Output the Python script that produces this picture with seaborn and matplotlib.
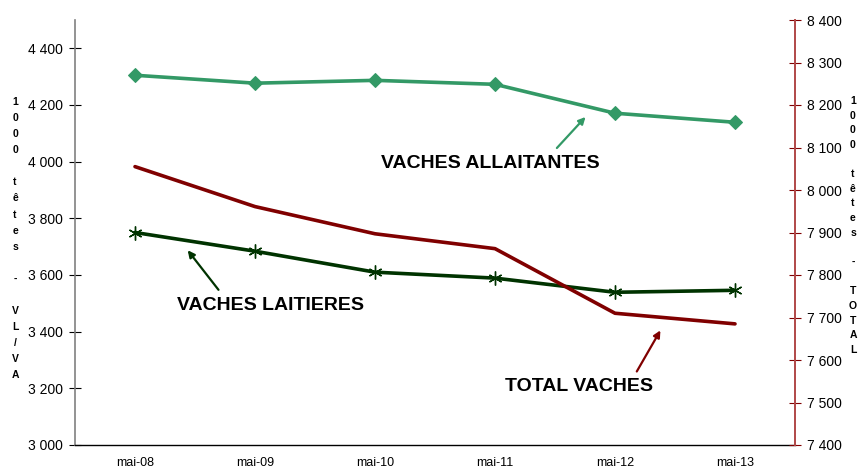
import matplotlib
matplotlib.use("Agg")
import matplotlib.pyplot as plt
import seaborn as sns
import pandas as pd
import numpy as np

months = ["mai-08", "mai-09", "mai-10", "mai-11", "mai-12", "mai-13"]
vaches_laitieres = [3750, 3684, 3610, 3589, 3539, 3546]
vaches_allaitantes = [4305, 4277, 4287, 4273, 4171, 4139]
total_vaches = [8055, 7961, 7897, 7862, 7710, 7685]

left_ticks = [3000, 3200, 3400, 3600, 3800, 4000, 4200, 4400]
right_ticks = [7400, 7500, 7600, 7700, 7800, 7900, 8000, 8100, 8200, 8300, 8400]

sns.set_style("white")
plt.rcParams["font.family"] = ["Liberation Sans", "DejaVu Sans"]
plt.rcParams["text.color"] = "black"
plt.rcParams["xtick.color"] = "black"
plt.rcParams["ytick.color"] = "black"
plt.rcParams["axes.labelcolor"] = "black"

df = pd.DataFrame({
    "idx": np.arange(len(months)),
    "VL": vaches_laitieres,
    "VA": vaches_allaitantes,
    "TOT": total_vaches,
})

fig = plt.figure(figsize=(8.58, 4.70), dpi=100)
ax = fig.add_axes([75/858, 1-445/470, (795-75)/858, (445-20)/470])
ax2 = ax.twinx()

c_va = "#339966"
c_vl = "#003300"
c_tot = "#800000"

sns.lineplot(data=df, x="idx", y="VA", ax=ax, color=c_va, lw=2.6,
             marker="D", markersize=7, markeredgecolor=c_va, zorder=3)
sns.lineplot(data=df, x="idx", y="VL", ax=ax, color=c_vl, lw=2.6,
             marker=(6, 2, 0), markersize=10, markeredgecolor=c_vl,
             markeredgewidth=1.0, zorder=3)
sns.lineplot(data=df, x="idx", y="TOT", ax=ax2, color=c_tot, lw=2.6, zorder=3)

ax.set_xlim(-0.5, len(months) - 0.5)
ax.set_ylim(3000, 4500)
ax2.set_ylim(7400, 8400)

# x ticks: boundaries as major ticks, labels at centers
ax.set_xticks(np.arange(-0.5, len(months), 1.0))
ax.set_xticklabels([])
ax.set_xticks(np.arange(len(months)), minor=True)
ax.set_xticklabels(months, minor=True, fontsize=9)
ax.tick_params(axis="x", which="major", direction="inout", length=7, width=0.8, color="black")
ax.tick_params(axis="x", which="minor", length=0, pad=9, labelcolor="black")

def fmt(v):
    return f"{v:,}".replace(",", " ")

ax.set_yticks(left_ticks)
ax.set_yticklabels([fmt(v) for v in left_ticks], fontsize=10)
ax.tick_params(axis="y", direction="inout", length=9, width=0.8, color="black",
               labelcolor="black", pad=4)

ax2.set_yticks(right_ticks)
ax2.set_yticklabels([fmt(v) for v in right_ticks], fontsize=10)
ax2.tick_params(axis="y", direction="inout", length=9, width=0.8, color=c_tot,
                labelcolor="black", pad=4)

ax.set_xlabel("")
ax.set_ylabel("")
ax2.set_ylabel("")

for a in (ax, ax2):
    a.spines["top"].set_visible(False)
    a.grid(False)
ax.spines["left"].set_color("#808080")
ax.spines["left"].set_linewidth(1.2)
ax.spines["bottom"].set_color("black")
ax.spines["bottom"].set_linewidth(1.0)
ax.spines["right"].set_visible(False)
ax2.spines["left"].set_visible(False)
ax2.spines["bottom"].set_visible(False)
ax2.spines["right"].set_color("#b04848")
ax2.spines["right"].set_linewidth(1.4)

# stacked vertical axis labels
left_label = "1000 têtes - VL/VA"
right_label = "1000 têtes - TOTAL"
fig.text(15/858, 1-97/470, "\n".join(left_label), ha="center", va="top",
         fontsize=7.5, fontweight="bold", linespacing=1.76, color="black")
fig.text(853/858, 1-96/470, "\n".join(right_label), ha="center", va="top",
         fontsize=7.5, fontweight="bold", linespacing=1.58, color="black")

# annotations
ax.text(2.96, 3992, "VACHES ALLAITANTES", ha="center", va="center",
        fontsize=14, fontweight="bold", color="black")
ax.annotate("", xy=(3.77, 4165), xytext=(3.5, 4041),
            arrowprops=dict(arrowstyle="-|>", color=c_va, lw=1.6, mutation_scale=10))

ax.text(1.133, 3491, "VACHES LAITIERES", ha="center", va="center",
        fontsize=14, fontweight="bold", color="black")
ax.annotate("", xy=(0.425, 3695), xytext=(0.71, 3540),
            arrowprops=dict(arrowstyle="-|>", color=c_vl, lw=1.6, mutation_scale=10))

ax.text(3.70, 3205, "TOTAL VACHES", ha="center", va="center",
        fontsize=14, fontweight="bold", color="black")
ax.annotate("", xy=(4.39, 3413), xytext=(4.17, 3251),
            arrowprops=dict(arrowstyle="-|>", color=c_tot, lw=1.6, mutation_scale=10))

fig.savefig("out.png", dpi=100)
